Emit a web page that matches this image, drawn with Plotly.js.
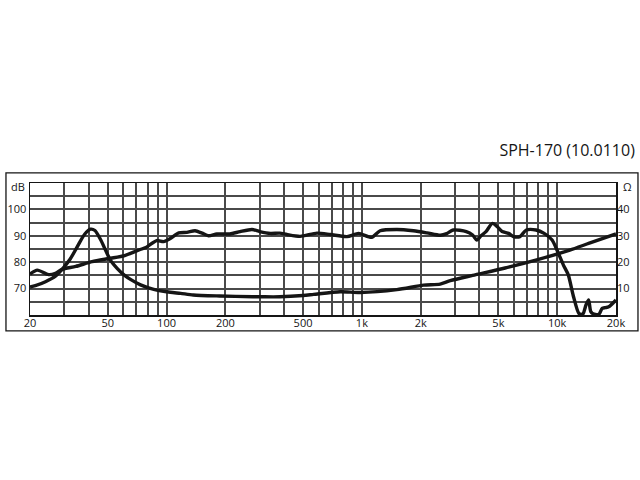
<!DOCTYPE html>
<html>
<head>
<meta charset="utf-8">
<script src="https://cdn.plot.ly/plotly-3.0.1.min.js"></script>
<style>
    html, body { margin: 0; padding: 0; background: #ffffff; }
    #responseChart { width: 640px; height: 480px; }
</style>
</head>
<body>
<div id="responseChart"></div>
<script>
const chartTitle = "SPH-170 (10.0110)";

// frequency response (dB)
const splFreq = [20, 21.8, 24.9, 27, 29.2, 34.3, 41.6, 50.7, 61, 70.8, 79.3, 89, 96.5, 104.5, 115.5, 127, 140, 152, 164, 181,
    211, 238, 274, 300, 340, 380, 413, 483, 589, 689, 839, 963, 1122, 1240, 1511, 1837, 2155, 2522, 2717, 2934,
    3424, 3690, 3873, 4072, 4318, 4662, 4936, 5225, 5640, 5972, 6444, 6955, 7796, 8575, 9420, 9976, 10760, 11395, 12060,
    12920, 13520, 14040, 14480, 14860, 15440, 16350, 16990, 17660, 18350, 20000];
const splDb = [75.5, 77, 75.3, 75.8, 77.3, 78.4, 80.2, 81.4, 82.5, 84.4, 85.8, 88.2, 87.8, 89, 91.1, 91.3, 91.9, 91, 90, 90.7,
    90.7, 91.6, 92.4, 91.6, 90.9, 91, 90.5, 89.8, 91, 90.5, 89.7, 90.9, 89.4, 91.9, 92.4, 91.9, 91.1, 90.2, 90.8, 92.2,
    91.6, 90.3, 88.4, 90, 91.6, 94.7, 93.4, 91.6, 90.9, 89.7, 89.7, 92.2, 92.2, 90.9, 88.4, 84.6, 78.9, 75.2, 67.6,
    60.6, 60.3, 63.8, 65.7, 61.3, 60.3, 60.3, 62.5, 62.8, 63.1, 65.7];

// impedance (ohm)
const impFreq = [20, 21.3, 24, 27, 29.2, 32, 35, 38, 40.8, 43, 46, 51.6, 56, 61, 66, 73.6, 86, 104.5, 118, 137,
    187, 277, 302, 380, 500, 566, 775, 982, 1511, 2070, 2516, 2836, 3690, 5410, 7940, 11600, 14600, 20000];
const impOhm = [10.6, 11.1, 12.6, 14.7, 17.3, 21, 26, 30.5, 32.5, 32, 28.5, 20.8, 17.6, 15, 13.3, 11.4, 9.7, 8.6, 8.2, 7.6,
    7.2, 6.9, 6.9, 6.9, 7.4, 7.8, 8.8, 8.5, 9.6, 11.3, 11.7, 13, 15, 17.8, 21, 24.6, 27.2, 30.7];

const freqGrid = [20, 30, 40, 50, 60, 70, 80, 90, 100, 200, 300, 400, 500, 600, 700, 800, 900,
    1000, 2000, 3000, 4000, 5000, 6000, 7000, 8000, 9000, 10000, 20000];
const freqLabels = ["20", "", "", "50", "", "", "", "", "100", "200", "", "", "500", "", "", "", "",
    "1k", "2k", "", "", "5k", "", "", "", "", "10k", "20k"];
const dbGrid = [60, 65, 70, 75, 80, 85, 90, 95, 100, 105, 110];
const dbLabels = ["", "", "70", "", "80", "", "90", "", "100", "", ""];
const ohmTicks = [10, 20, 30, 40];

const INK = "#151515";
const GRID = "#4a4a4a";
const tickFont = { family: '"Open Sans", sans-serif', size: 11, color: INK };

function curveTrace(x, y, axis) {
    return {
        x: x,
        y: y,
        yaxis: axis,
        type: "scatter",
        mode: "lines",
        line: { color: INK, width: 3.4, shape: "spline", smoothing: 0.7 },
        hoverinfo: "skip",
        showlegend: false
    };
}

const data = [
    curveTrace(splFreq, splDb, "y"),
    curveTrace(impFreq, impOhm, "y2")
];

const layout = {
    width: 640,
    height: 480,
    margin: { l: 30, r: 24, t: 183, b: 165 },
    paper_bgcolor: "#ffffff",
    plot_bgcolor: "#ffffff",
    showlegend: false,
    title: {
        text: chartTitle,
        x: 0.992,
        xanchor: "right",
        xref: "container",
        y: 0.6875,
        yanchor: "middle",
        yref: "container",
        font: { family: '"Open Sans", sans-serif', size: 16, color: INK }
    },
    xaxis: {
        type: "log",
        range: [Math.log10(20), Math.log10(20000)],
        tickmode: "array",
        tickvals: freqGrid,
        ticktext: freqLabels,
        ticks: "",
        ticklabelstandoff: -3,
        showgrid: true,
        gridcolor: GRID,
        gridwidth: 2,
        showline: true,
        mirror: true,
        linecolor: INK,
        linewidth: 1.5,
        zeroline: false,
        tickfont: tickFont,
        fixedrange: true
    },
    yaxis: {
        range: [60, 110],
        tickmode: "array",
        tickvals: dbGrid,
        ticktext: dbLabels,
        ticks: "",
        showgrid: true,
        gridcolor: GRID,
        gridwidth: 2,
        showline: true,
        mirror: true,
        linecolor: INK,
        linewidth: 1.5,
        zeroline: false,
        tickfont: tickFont,
        fixedrange: true
    },
    yaxis2: {
        range: [0, 50],
        overlaying: "y",
        side: "right",
        tickmode: "array",
        tickvals: ohmTicks,
        ticks: "",
        showgrid: false,
        zeroline: false,
        showline: false,
        tickfont: tickFont,
        fixedrange: true
    },
    annotations: [
        { text: "dB", xref: "paper", yref: "paper", x: -0.0205, y: 0.97, xanchor: "center", yanchor: "middle", showarrow: false, font: tickFont },
        { text: "Ω", xref: "paper", yref: "paper", x: 1.0188, y: 0.97, xanchor: "center", yanchor: "middle", showarrow: false, font: tickFont }
    ],
    shapes: [
        {
            type: "rect",
            xref: "paper",
            yref: "paper",
            x0: -0.041,
            x1: 1.0375,
            y0: -0.121,
            y1: 1.076,
            line: { color: INK, width: 1.3 },
            layer: "below"
        }
    ]
};

Plotly.newPlot("responseChart", data, layout, { staticPlot: true, displayModeBar: false });
</script>
</body>
</html>
